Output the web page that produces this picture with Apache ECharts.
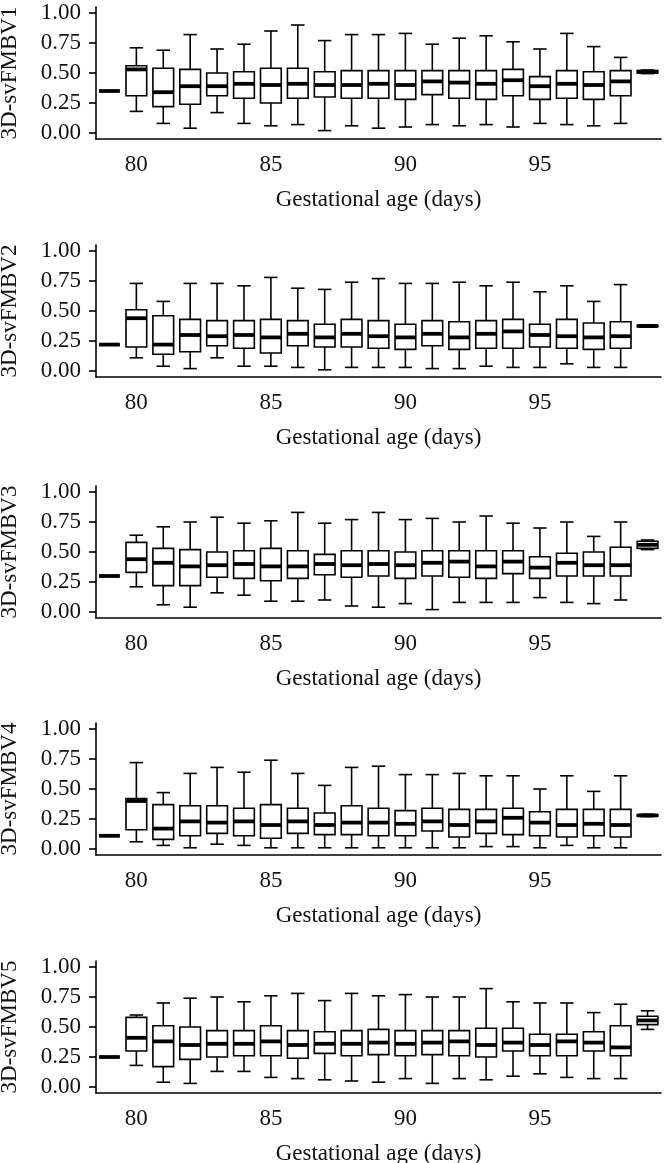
<!DOCTYPE html>
<html>
<head>
<meta charset="utf-8">
<script src="https://cdn.jsdelivr.net/npm/echarts@6/dist/echarts.min.js"></script>
<style>
  html, body { margin: 0; padding: 0; background: #fff; }
  #chart { width: 666px; height: 1163px; }
</style>
</head>
<body>
<div id="chart"></div>
<script>
// gestational age (days)
const days = ['79', '80', '81', '82', '83', '84', '85', '86', '87', '88', '89',
  '90', '91', '92', '93', '94', '95', '96', '97', '98', '99']
const tickDays = ['80', '85', '90', '95']
const yTicks = [0, 0.25, 0.5, 0.75, 1]

// each row: [min, q1, median, q3, max]
const fmbv1 = [
  [0.35, 0.35, 0.35, 0.35, 0.35],
  [0.18, 0.31, 0.53, 0.56, 0.71],
  [0.08, 0.22, 0.34, 0.54, 0.69],
  [0.04, 0.24, 0.39, 0.53, 0.82],
  [0.17, 0.31, 0.39, 0.50, 0.70],
  [0.08, 0.29, 0.41, 0.51, 0.74],
  [0.06, 0.25, 0.40, 0.54, 0.85],
  [0.07, 0.29, 0.41, 0.54, 0.90],
  [0.02, 0.30, 0.40, 0.51, 0.77],
  [0.06, 0.29, 0.40, 0.52, 0.82],
  [0.04, 0.29, 0.41, 0.52, 0.82],
  [0.05, 0.28, 0.40, 0.52, 0.83],
  [0.07, 0.32, 0.43, 0.52, 0.74],
  [0.06, 0.29, 0.42, 0.52, 0.79],
  [0.07, 0.28, 0.41, 0.52, 0.81],
  [0.05, 0.31, 0.44, 0.53, 0.76],
  [0.08, 0.28, 0.39, 0.47, 0.70],
  [0.07, 0.29, 0.41, 0.52, 0.83],
  [0.06, 0.28, 0.40, 0.51, 0.72],
  [0.08, 0.31, 0.43, 0.52, 0.63],
  [0.495, 0.50, 0.51, 0.52, 0.525]
]
const fmbv2 = [
  [0.22, 0.22, 0.22, 0.22, 0.22],
  [0.11, 0.20, 0.44, 0.51, 0.73],
  [0.04, 0.14, 0.22, 0.46, 0.58],
  [0.02, 0.16, 0.30, 0.43, 0.73],
  [0.11, 0.21, 0.29, 0.42, 0.73],
  [0.04, 0.19, 0.30, 0.42, 0.71],
  [0.04, 0.15, 0.28, 0.43, 0.78],
  [0.03, 0.21, 0.31, 0.42, 0.69],
  [0.01, 0.20, 0.28, 0.39, 0.68],
  [0.03, 0.20, 0.31, 0.43, 0.74],
  [0.03, 0.19, 0.29, 0.42, 0.77],
  [0.03, 0.18, 0.28, 0.39, 0.73],
  [0.02, 0.21, 0.31, 0.42, 0.73],
  [0.02, 0.18, 0.28, 0.41, 0.74],
  [0.04, 0.19, 0.31, 0.42, 0.71],
  [0.03, 0.19, 0.33, 0.43, 0.74],
  [0.03, 0.20, 0.30, 0.39, 0.66],
  [0.06, 0.19, 0.29, 0.43, 0.71],
  [0.03, 0.18, 0.28, 0.40, 0.58],
  [0.03, 0.19, 0.29, 0.41, 0.72],
  [0.365, 0.37, 0.375, 0.38, 0.385]
]
const fmbv3 = [
  [0.30, 0.30, 0.30, 0.30, 0.30],
  [0.21, 0.33, 0.44, 0.58, 0.64],
  [0.06, 0.22, 0.41, 0.53, 0.71],
  [0.04, 0.22, 0.38, 0.52, 0.75],
  [0.16, 0.29, 0.39, 0.50, 0.79],
  [0.14, 0.28, 0.40, 0.51, 0.74],
  [0.09, 0.26, 0.38, 0.53, 0.76],
  [0.09, 0.28, 0.38, 0.51, 0.83],
  [0.10, 0.31, 0.40, 0.48, 0.74],
  [0.05, 0.29, 0.39, 0.51, 0.77],
  [0.04, 0.30, 0.40, 0.51, 0.83],
  [0.07, 0.28, 0.39, 0.50, 0.77],
  [0.02, 0.30, 0.41, 0.51, 0.78],
  [0.08, 0.29, 0.42, 0.51, 0.75],
  [0.08, 0.28, 0.38, 0.51, 0.80],
  [0.08, 0.32, 0.42, 0.51, 0.74],
  [0.12, 0.28, 0.37, 0.46, 0.70],
  [0.08, 0.30, 0.41, 0.49, 0.75],
  [0.07, 0.30, 0.39, 0.50, 0.63],
  [0.10, 0.30, 0.39, 0.54, 0.75],
  [0.52, 0.53, 0.56, 0.59, 0.60]
]
const fmbv4 = [
  [0.11, 0.11, 0.11, 0.11, 0.11],
  [0.06, 0.16, 0.40, 0.42, 0.72],
  [0.03, 0.08, 0.17, 0.37, 0.47],
  [0.01, 0.11, 0.23, 0.36, 0.63],
  [0.04, 0.13, 0.22, 0.36, 0.68],
  [0.03, 0.11, 0.23, 0.34, 0.64],
  [0.01, 0.09, 0.20, 0.37, 0.74],
  [0.01, 0.13, 0.23, 0.34, 0.63],
  [0.01, 0.12, 0.20, 0.30, 0.53],
  [0.01, 0.12, 0.22, 0.36, 0.68],
  [0.01, 0.11, 0.22, 0.34, 0.69],
  [0.01, 0.11, 0.21, 0.32, 0.62],
  [0.01, 0.15, 0.23, 0.34, 0.62],
  [0.01, 0.10, 0.20, 0.33, 0.63],
  [0.02, 0.13, 0.23, 0.33, 0.61],
  [0.02, 0.12, 0.26, 0.34, 0.61],
  [0.01, 0.11, 0.22, 0.31, 0.50],
  [0.03, 0.10, 0.20, 0.33, 0.61],
  [0.01, 0.11, 0.21, 0.33, 0.48],
  [0.01, 0.10, 0.20, 0.33, 0.61],
  [0.27, 0.275, 0.28, 0.285, 0.29]
]
const fmbv5 = [
  [0.25, 0.25, 0.25, 0.25, 0.25],
  [0.18, 0.30, 0.41, 0.58, 0.60],
  [0.04, 0.17, 0.38, 0.51, 0.70],
  [0.03, 0.23, 0.35, 0.50, 0.74],
  [0.13, 0.25, 0.36, 0.47, 0.75],
  [0.13, 0.26, 0.36, 0.47, 0.71],
  [0.08, 0.26, 0.38, 0.51, 0.76],
  [0.07, 0.24, 0.35, 0.47, 0.78],
  [0.06, 0.28, 0.36, 0.46, 0.72],
  [0.05, 0.26, 0.36, 0.47, 0.78],
  [0.04, 0.27, 0.37, 0.48, 0.76],
  [0.07, 0.26, 0.36, 0.47, 0.77],
  [0.03, 0.27, 0.37, 0.47, 0.75],
  [0.07, 0.26, 0.38, 0.47, 0.75],
  [0.06, 0.25, 0.35, 0.49, 0.82],
  [0.09, 0.30, 0.37, 0.49, 0.71],
  [0.11, 0.26, 0.35, 0.44, 0.70],
  [0.08, 0.26, 0.38, 0.44, 0.70],
  [0.07, 0.30, 0.37, 0.46, 0.62],
  [0.07, 0.26, 0.33, 0.51, 0.69],
  [0.48, 0.52, 0.555, 0.59, 0.635]
]

const panels = [
  { name: '3D-svFMBV1', data: fmbv1 },
  { name: '3D-svFMBV2', data: fmbv2 },
  { name: '3D-svFMBV3', data: fmbv3 },
  { name: '3D-svFMBV4', data: fmbv4 },
  { name: '3D-svFMBV5', data: fmbv5 }
]
const gridTops = [7, 245, 486, 723, 961]

const font = '"Liberation Serif", "DejaVu Serif", serif'
const ink = '#111'

// box drawn like ggplot: white box, fat median, capped whiskers
const renderBox = (params, api) => {
  const x = api.value(0)
  const lo = api.coord([x, api.value(1)])
  const q1 = api.coord([x, api.value(2)])
  const md = api.coord([x, api.value(3)])
  const q3 = api.coord([x, api.value(4)])
  const hi = api.coord([x, api.value(5)])
  const band = api.size([1, 0])[0]
  const bw = band * 0.77
  const cw = band * 0.5
  const cx = md[0]
  const line = { stroke: '#000', lineWidth: 1.6 }
  return {
    type: 'group',
    children: [
      { type: 'line', shape: { x1: cx, y1: hi[1], x2: cx, y2: q3[1] }, style: line },
      { type: 'line', shape: { x1: cx, y1: q1[1], x2: cx, y2: lo[1] }, style: line },
      { type: 'line', shape: { x1: cx - cw / 2, y1: hi[1], x2: cx + cw / 2, y2: hi[1] }, style: line },
      { type: 'line', shape: { x1: cx - cw / 2, y1: lo[1], x2: cx + cw / 2, y2: lo[1] }, style: line },
      {
        type: 'rect',
        shape: { x: cx - bw / 2, y: q3[1], width: bw, height: q1[1] - q3[1] },
        style: { fill: '#fff', stroke: '#000', lineWidth: 1.6 }
      },
      { type: 'line', shape: { x1: cx - bw / 2, y1: md[1], x2: cx + bw / 2, y2: md[1] }, style: { stroke: '#000', lineWidth: 3.8 } }
    ]
  }
}

const isTickDay = (idx, value) => tickDays.includes(value)

const chart = echarts.init(document.getElementById('chart'), null, { renderer: 'canvas' })

const option = {
  animation: false,
  backgroundColor: '#fff',
  grid: gridTops.map(top => ({ left: 96, right: 5, top: top, height: 132, outerBoundsMode: 'none', containLabel: false })),
  xAxis: panels.map((p, i) => ({
    type: 'category',
    gridIndex: i,
    data: days,
    name: 'Gestational age (days)',
    nameLocation: 'middle',
    nameGap: 49,
    nameTextStyle: { fontFamily: font, fontSize: 23, color: ink },
    axisLine: { onZero: false, lineStyle: { color: '#000', width: 1.6 } },
    axisTick: { alignWithLabel: true, interval: isTickDay, length: 7, lineStyle: { color: '#000', width: 1.6 } },
    axisLabel: { interval: isTickDay, margin: 14, fontFamily: font, fontSize: 23, color: ink },
    splitLine: { show: false }
  })),
  yAxis: panels.map((p, i) => ({
    type: 'value',
    gridIndex: i,
    min: -0.05,
    max: 1.05,
    name: p.name,
    nameLocation: 'middle',
    nameGap: 75,
    nameTextStyle: { fontFamily: font, fontSize: 23, color: ink },
    axisLine: { show: true, lineStyle: { color: '#000', width: 1.6 } },
    axisTick: { show: true, customValues: yTicks, length: 7, lineStyle: { color: '#000', width: 1.6 } },
    axisLabel: {
      customValues: yTicks,
      margin: 15,
      fontFamily: font,
      fontSize: 23,
      color: ink,
      formatter: v => v.toFixed(2)
    },
    splitLine: { show: false }
  })),
  series: panels.map((p, i) => ({
    type: 'custom',
    name: p.name,
    xAxisIndex: i,
    yAxisIndex: i,
    renderItem: renderBox,
    encode: { x: 0, y: [1, 2, 3, 4, 5] },
    data: p.data.map((row, d) => [d].concat(row))
  }))
}

chart.setOption(option)
</script>
</body>
</html>
